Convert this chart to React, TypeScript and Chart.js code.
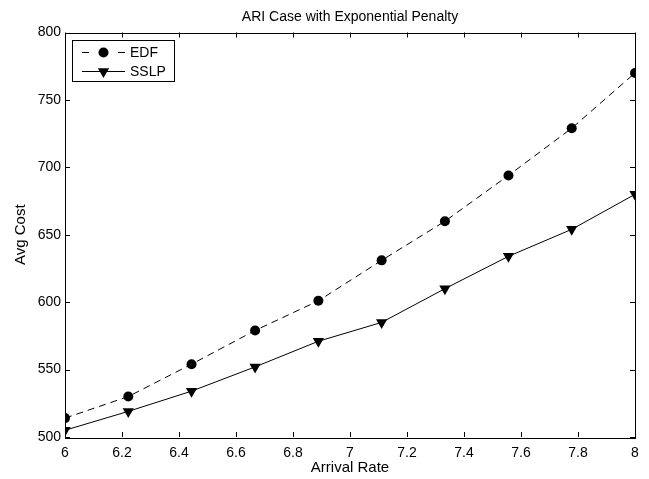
import React, { useEffect, useRef } from "react";
import { Chart, registerables } from "chart.js";

Chart.register(...registerables);

const arrivalRate = [6, 6.222, 6.444, 6.667, 6.889, 7.111, 7.333, 7.556, 7.778, 8];
const edfCost = [514, 530, 554, 579, 601, 631, 660, 694, 729, 770];
const sslpCost = [505, 519, 534, 552, 571, 585, 610, 634, 654, 680];
const xTickValues = [6, 6.2, 6.4, 6.6, 6.8, 7, 7.2, 7.4, 7.6, 7.8, 8];
const yTickValues = [500, 550, 600, 650, 700, 750, 800];
const seriesNames = ["EDF", "SSLP"];
const titleText = "ARI Case with Exponential Penalty";
const xLabel = "Arrival Rate";
const yLabel = "Avg Cost";

const FONT = '"Liberation Sans", Arial, Helvetica, sans-serif';
const INK = "#000";

const framePlugin = {
  id: "matlabFrame",
  afterDatasetsDraw(chart: any) {
    const ctx = chart.ctx;
    const { left, right, top, bottom } = chart.chartArea;
    const xs = chart.scales.x;
    const ys = chart.scales.y;
    const tl = 5;
    ctx.save();
    ctx.strokeStyle = INK;
    ctx.lineWidth = 1;
    ctx.setLineDash([]);
    ctx.beginPath();
    for (const v of xTickValues) {
      const px = Math.round(xs.getPixelForValue(v)) + 0.5;
      ctx.moveTo(px, bottom);
      ctx.lineTo(px, bottom - tl);
      ctx.moveTo(px, top);
      ctx.lineTo(px, top + tl);
    }
    for (const v of yTickValues) {
      const py = Math.round(ys.getPixelForValue(v)) + 0.5;
      ctx.moveTo(left, py);
      ctx.lineTo(left + tl, py);
      ctx.moveTo(right, py);
      ctx.lineTo(right - tl, py);
    }
    ctx.stroke();
    ctx.strokeRect(Math.round(left) + 0.5, Math.round(top) + 0.5, Math.round(right - left), Math.round(bottom - top));

    // title, centred over the plot area
    ctx.fillStyle = INK;
    ctx.font = `14px ${FONT}`;
    ctx.textAlign = "center";
    ctx.textBaseline = "middle";
    ctx.fillText(titleText, (left + right) / 2, top - 15);

    // legend
    const bx = Math.round(left) + 7.5;
    const by = Math.round(top) + 7.5;
    const bw = 102;
    const bh = 41;
    ctx.fillStyle = "#fff";
    ctx.fillRect(bx, by, bw, bh);
    ctx.strokeRect(bx, by, bw, bh);
    const lx0 = bx + 9.5;
    const lx1 = bx + 52.5;
    const mx = (lx0 + lx1) / 2;
    const r1 = by + 12;
    const r2 = by + 31;
    ctx.beginPath();
    ctx.moveTo(lx0, r1);
    ctx.lineTo(lx0 + 7, r1);
    ctx.moveTo(lx1 - 7, r1);
    ctx.lineTo(lx1, r1);
    ctx.moveTo(lx0, r2);
    ctx.lineTo(lx1, r2);
    ctx.stroke();
    ctx.fillStyle = INK;
    ctx.beginPath();
    ctx.arc(mx, r1, 5, 0, Math.PI * 2);
    ctx.fill();
    const tr = 6.5;
    const s60 = Math.sin(Math.PI / 3);
    ctx.beginPath();
    ctx.moveTo(mx, r2 + tr);
    ctx.lineTo(mx - tr * s60, r2 - tr / 2);
    ctx.lineTo(mx + tr * s60, r2 - tr / 2);
    ctx.closePath();
    ctx.fill();
    ctx.font = `14px ${FONT}`;
    ctx.textAlign = "left";
    ctx.textBaseline = "middle";
    ctx.fillText(seriesNames[0], lx1 + 5, r1 + 0.5);
    ctx.fillText(seriesNames[1], lx1 + 5, r2 + 0.5);
    ctx.restore();
  },
};

export default function App() {
  const ref = useRef<HTMLCanvasElement | null>(null);

  useEffect(() => {
    if (!ref.current) return;
    const font = { family: FONT, size: 14, weight: "normal" as const };
    const labelFont = { family: FONT, size: 15, weight: "normal" as const };
    const chart = new Chart(ref.current, {
      type: "line",
      data: {
        datasets: [
          {
            label: seriesNames[0],
            data: arrivalRate.map((x, i) => ({ x, y: edfCost[i] })),
            borderColor: INK,
            backgroundColor: INK,
            borderWidth: 1,
            borderDash: [7, 5],
            pointStyle: "circle",
            pointRadius: 5,
            pointBorderWidth: 0,
            pointBackgroundColor: INK,
            tension: 0,
          },
          {
            label: seriesNames[1],
            data: arrivalRate.map((x, i) => ({ x, y: sslpCost[i] })),
            borderColor: INK,
            backgroundColor: INK,
            borderWidth: 1,
            pointStyle: "triangle",
            rotation: 180,
            pointRadius: 6.5,
            pointBorderWidth: 0,
            pointBackgroundColor: INK,
            tension: 0,
          },
        ],
      },
      options: {
        animation: false,
        responsive: false,
        events: [],
        layout: { padding: { left: 0, right: 14, top: 32.5, bottom: 0 } },
        plugins: {
          legend: { display: false },
          tooltip: { enabled: false },
          title: { display: false },
        },
        scales: {
          x: {
            type: "linear",
            min: 6,
            max: 8,
            afterBuildTicks: (s: any) => {
              s.ticks = xTickValues.map((v) => ({ value: v }));
            },
            afterFit: (s: any) => {
              s.height = 42;
            },
            ticks: {
              color: INK,
              font,
              padding: 8,
              maxRotation: 0,
              autoSkip: false,
              callback: (v: any) => String(v),
            },
            grid: { display: false, drawTicks: false },
            border: { display: false },
            title: { display: true, text: xLabel, color: INK, font: labelFont, padding: { top: 0, bottom: 2 } },
          },
          y: {
            type: "linear",
            min: 500,
            max: 800,
            afterBuildTicks: (s: any) => {
              s.ticks = yTickValues.map((v) => ({ value: v }));
            },
            afterFit: (s: any) => {
              s.width = 65;
            },
            ticks: {
              color: INK,
              font,
              padding: 4,
              autoSkip: false,
              callback: (v: any) => String(v),
            },
            grid: { display: false, drawTicks: false },
            border: { display: false },
            title: { display: true, text: yLabel, color: INK, font: labelFont, padding: { top: 11.5, bottom: 0 } },
          },
        },
      },
      plugins: [framePlugin],
    });
    return () => chart.destroy();
  }, []);

  return (
    <div style={{ position: "absolute", left: 0, top: 0, width: 649, height: 479, background: "#fff" }}>
      <canvas ref={ref} width={649} height={479} style={{ display: "block" }} />
    </div>
  );
}
